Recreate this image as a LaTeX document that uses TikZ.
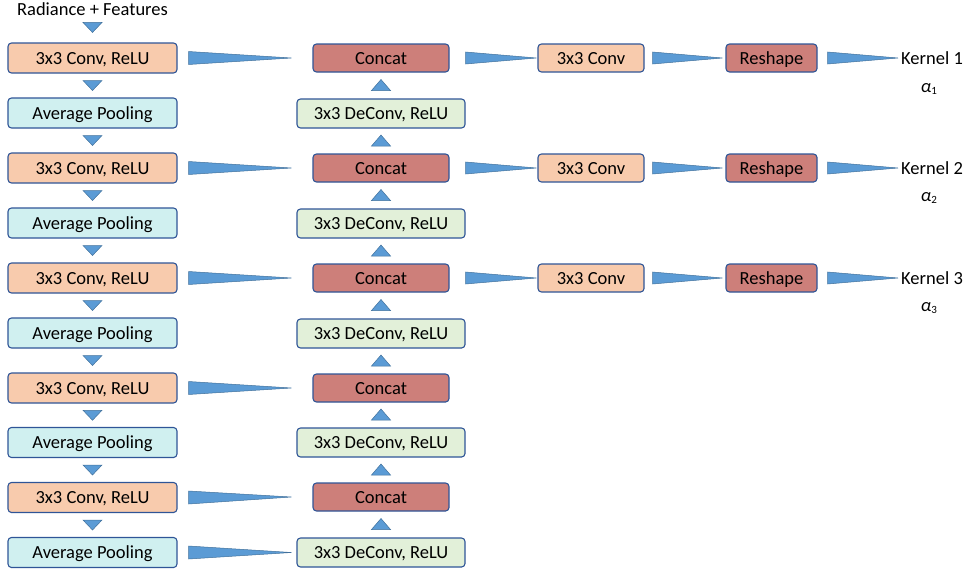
\documentclass[tikz,border=0pt]{standalone}
\usepackage{fontspec}
\setmainfont{Carlito}
\usetikzlibrary{calc}
\definecolor{convc}{HTML}{F8CBAD}
\definecolor{poolc}{HTML}{D0F0F0}
\definecolor{catc}{HTML}{CD7F7A}
\definecolor{decc}{HTML}{E2F0D9}
\definecolor{edgec}{HTML}{2F5597}
\definecolor{arrc}{HTML}{5B9BD5}
\definecolor{arre}{HTML}{41719C}
\newcommand{\alf}[1]{{\itshape α}\raisebox{-2.5pt}{\fontsize{11}{13}\selectfont #1}}
\tikzset{
  box/.style={draw=edgec, line width=1.1pt, rounded corners=3.5pt, inner sep=0pt, font=\fontsize{18.5}{22}\selectfont, text=black, text height=12pt, text depth=0pt},
  convbox/.style={box, fill=convc, minimum width=169pt, minimum height=30pt},
  poolbox/.style={box, fill=poolc, minimum width=169pt, minimum height=30pt},
  catbox/.style={box, fill=catc, minimum width=136pt, minimum height=28pt},
  decbox/.style={box, fill=decc, minimum width=168pt, minimum height=29pt},
  convsbox/.style={box, fill=convc, minimum width=106pt, minimum height=28pt},
  reshbox/.style={box, fill=catc, minimum width=91pt, minimum height=28pt},
  lbl/.style={inner sep=0pt, font=\fontsize{18.5}{22}\selectfont, text=black, text height=12pt, text depth=0pt},
  wdg/.style={fill=arrc, draw=arre, line width=0.5pt, line join=miter},
}
% wedge from node #1 to node #2, start gap #3, end gap #4, half height #5
\newcommand{\wdgdraw}[5]{\filldraw[wdg] ($(#1.east)+(#3,#5)$) -- ($(#1.east)+(#3,-#5)$) -- ($(#2.west)+(-#4,0)$) -- cycle;}
\newcommand{\downtri}[2]{\filldraw[wdg] ($(#1.south)!0.5!(#2.north)+(-9.5,-5)$) -- ($(#1.south)!0.5!(#2.north)+(9.5,-5)$) -- ($(#1.south)!0.5!(#2.north)+(0,5)$) -- cycle;}
\newcommand{\uptri}[2]{\filldraw[wdg] ($(#1.north)!0.5!(#2.south)+(-9.5,5)$) -- ($(#1.north)!0.5!(#2.south)+(9.5,5)$) -- ($(#1.north)!0.5!(#2.south)+(0,-6)$) -- cycle;}
\begin{document}
\begin{tikzpicture}[x=1pt,y=-1pt]
\useasboundingbox (0,0) rectangle (969,576);
\node[lbl] (in) at (92.5,9) {Radiance + Features};
% left column
\node[convbox] (c1) at (92.5,58) {3x3 Conv, ReLU};
\node[poolbox] (p1) at (92.5,113) {Average Pooling};
\node[convbox] (c2) at (92.5,168) {3x3 Conv, ReLU};
\node[poolbox] (p2) at (92.5,223) {Average Pooling};
\node[convbox] (c3) at (92.5,278) {3x3 Conv, ReLU};
\node[poolbox] (p3) at (92.5,333) {Average Pooling};
\node[convbox] (c4) at (92.5,388) {3x3 Conv, ReLU};
\node[poolbox] (p4) at (92.5,442.5) {Average Pooling};
\node[convbox] (c5) at (92.5,497.5) {3x3 Conv, ReLU};
\node[poolbox] (p5) at (92.5,552.5) {Average Pooling};
% middle column
\node[catbox] (k1) at (381,58) {Concat};
\node[decbox] (d1) at (381,113.5) {3x3 DeConv, ReLU};
\node[catbox] (k2) at (381,168) {Concat};
\node[decbox] (d2) at (381,223.5) {3x3 DeConv, ReLU};
\node[catbox] (k3) at (381,278) {Concat};
\node[decbox] (d3) at (381,333.5) {3x3 DeConv, ReLU};
\node[catbox] (k4) at (381,388) {Concat};
\node[decbox] (d4) at (381,442.5) {3x3 DeConv, ReLU};
\node[catbox] (k5) at (381,497) {Concat};
\node[decbox] (d5) at (381,552.5) {3x3 DeConv, ReLU};
% right part
\node[convsbox] (s1) at (591,58) {3x3 Conv};
\node[reshbox] (r1) at (771.5,58) {Reshape};
\node[lbl, anchor=west] (o1) at (901,58) {Kernel 1};
\node[lbl] (a1) at (929,86) {\alf{1}};
\node[convsbox] (s2) at (591,168) {3x3 Conv};
\node[reshbox] (r2) at (771.5,168) {Reshape};
\node[lbl, anchor=west] (o2) at (901,168) {Kernel 2};
\node[lbl] (a2) at (929,195) {\alf{2}};
\node[convsbox] (s3) at (591,278) {3x3 Conv};
\node[reshbox] (r3) at (771.5,278) {Reshape};
\node[lbl, anchor=west] (o3) at (901,278) {Kernel 3};
\node[lbl] (a3) at (929,305) {\alf{3}};
% input triangle
\filldraw[wdg] ($(c1.north)+(-9.5,-20)$) -- ($(c1.north)+(9.5,-20)$) -- ($(c1.north)+(0,-10)$) -- cycle;
% down triangles
\downtri{c1}{p1}\downtri{p1}{c2}\downtri{c2}{p2}\downtri{p2}{c3}\downtri{c3}{p3}
\downtri{p3}{c4}\downtri{c4}{p4}\downtri{p4}{c5}\downtri{c5}{p5}
% up triangles
\uptri{d1}{k1}\uptri{k2}{d1}
\uptri{d2}{k2}\uptri{k3}{d2}
\uptri{d3}{k3}\uptri{k4}{d3}
\uptri{d4}{k4}\uptri{k5}{d4}
\uptri{d5}{k5}
% skip wedges
\wdgdraw{c1}{k1}{11}{21}{6.5}
\wdgdraw{c2}{k2}{11}{21}{6.5}
\wdgdraw{c3}{k3}{11}{21}{6.5}
\wdgdraw{c4}{k4}{11}{21}{6.5}
\wdgdraw{c5}{k5}{11}{21}{6.5}
\wdgdraw{p5}{d5}{11}{5}{6.5}
% output wedges
\wdgdraw{k1}{s1}{16}{1}{6}
\wdgdraw{s1}{r1}{8}{3}{6}
\wdgdraw{r1}{o1}{10}{3}{6}
\wdgdraw{k2}{s2}{16}{1}{6}
\wdgdraw{s2}{r2}{8}{3}{6}
\wdgdraw{r2}{o2}{10}{3}{6}
\wdgdraw{k3}{s3}{16}{1}{6}
\wdgdraw{s3}{r3}{8}{3}{6}
\wdgdraw{r3}{o3}{10}{3}{6}
\end{tikzpicture}
\end{document}
